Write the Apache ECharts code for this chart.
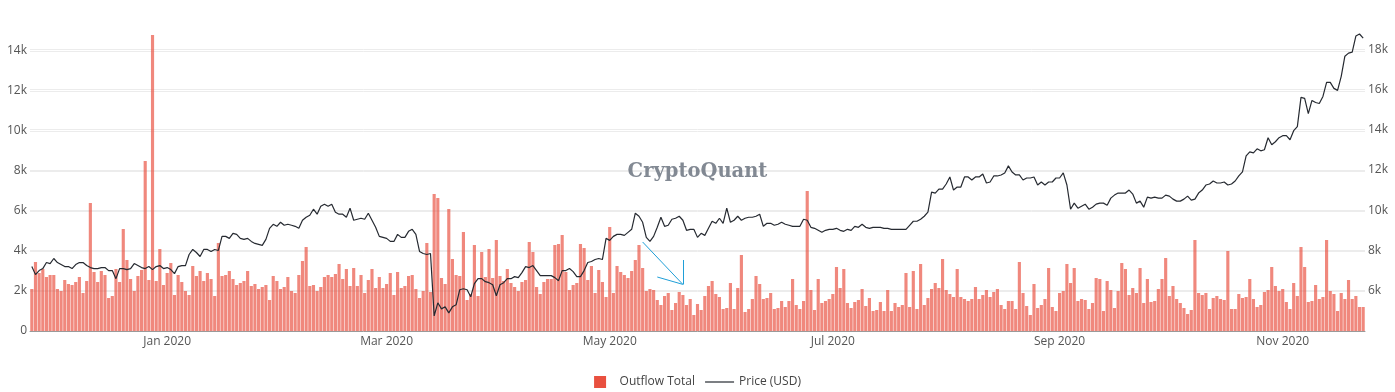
<!DOCTYPE html>
<html>
<head>
<meta charset="utf-8">
<script src="https://cdn.jsdelivr.net/npm/echarts@6/dist/echarts.min.js"></script>
<style>
html,body{margin:0;padding:0;background:#fff;}
#chart{width:1395px;height:392px;}
</style>
</head>
<body>
<div id="chart"></div>
<script>
// ---- data ----
const startDate = '2019-11-25';
const dayCount = 365;

const outflowTotal = [
2100,3450,2900,3100,2700,2800,2800,2100,2000,2550,
2350,2300,2450,2700,1900,2500,6400,2950,2450,3000,
2800,1650,1750,3100,2450,5100,3550,2600,2000,2750,
3050,8500,2550,14800,2500,4100,2300,2900,3400,1800,
2800,2450,2000,1800,3250,2750,3000,2500,2900,2600,
1750,4400,2750,2800,3000,2600,2300,2400,2500,3000,
2250,2350,2100,2200,2300,1550,2750,2500,2100,2200,
2700,2000,1900,2800,3500,4200,2250,2300,2000,2200,
2700,2800,2700,2850,3350,2600,3100,2250,3150,2250,
2800,1900,2550,3100,2150,2700,2150,2350,2900,1800,
2950,2150,2250,2750,2800,2100,1650,2000,4400,1950,
6850,6650,2650,2350,6100,3600,2800,2750,4950,1550,
1850,4300,1750,3950,2700,4100,2650,4550,2750,2500,
3100,2400,2200,2000,2450,2550,4450,3950,2200,1850,
2450,2600,2600,4300,4350,4800,2950,2050,2300,2400,
4350,4150,2550,3250,1900,3050,2450,1700,5200,1900,
3250,2950,2800,2650,3000,3550,4300,3150,2000,2100,
2050,1550,1300,1750,1900,1050,1400,1950,1800,1300,
1600,800,1350,1050,1750,2250,2500,1850,1700,1100,
1150,2400,1100,2150,3800,950,1100,1600,2750,2350,
1600,1650,1900,1100,1150,1500,1200,1500,2600,1300,
1100,1500,7000,2050,1050,2600,1400,1500,1600,1850,
3200,2150,3100,1400,1150,1450,1550,2100,1250,1650,
1000,1050,1450,1000,2050,1000,1400,1200,1300,2900,
1200,3000,1100,3350,1300,1650,2100,2400,2150,3600,
2050,1850,1700,3100,1700,1600,1500,1600,2200,1600,
1800,2050,1700,1950,2100,1300,1100,1500,1500,1100,
3450,1900,1250,800,2350,1150,1300,1600,3150,1200,
1000,1900,2000,3350,2400,3150,1500,1600,1550,1100,
1400,2650,2600,1000,2500,2050,1150,2000,3400,3100,
1800,2150,1900,3150,1400,2600,1450,1500,2100,2600,
3650,1750,2250,1600,1400,1150,850,1050,4550,1900,
1800,1900,1100,1650,1750,1600,1550,4000,1100,1100,
1850,1650,1700,2600,1600,1200,1300,1950,2050,3200,
2250,2000,2100,1450,1100,2400,1750,4200,3200,1450,
1500,2300,1600,1700,4550,2000,1850,1000,1900,1600,
2550,1600,1750,1200,1200
];

const priceUsd = [
7200,6800,7000,7100,7400,7350,7600,7400,7300,7200,
7200,7100,7300,7400,7400,7250,7150,7100,7100,7150,
7150,7000,7000,6600,7100,7100,7050,7100,7350,7250,
7150,7100,7200,7050,7200,7250,7100,7150,7050,6850,
7200,7250,7250,7800,8050,7900,7700,8050,8050,7950,
8050,8000,8700,8700,8600,8850,8800,8600,8550,8600,
8450,8350,8300,8250,8550,9100,9300,9200,9400,9250,
9300,9250,9200,9100,9500,9650,9750,10050,9800,10200,
10300,10200,10300,9900,9800,9800,9650,10100,9500,9550,
9600,9550,9850,9500,9150,8700,8650,8600,8450,8450,
8800,8650,8650,8950,9050,8800,7950,7850,7800,7850,
4750,5400,5100,5200,4900,5200,5300,6050,6100,6050,
5700,6350,6600,6600,6450,6400,6300,5750,6300,6400,
6600,6600,6700,6650,6900,7200,7150,7250,7000,6750,
6750,6750,6750,6650,6500,7000,7000,7100,6950,6700,
6700,7000,7400,7450,7550,7600,7550,8600,8500,8700,
8800,8800,8750,8900,9050,9850,9700,9400,8650,8450,
8700,9150,9650,9200,9250,9550,9600,9700,9500,9000,
9050,9050,8650,8850,8750,9100,9450,9350,9600,9350,
10100,9400,9500,9700,9500,9600,9650,9650,9700,9800,
9200,9350,9350,9250,9300,9400,9300,9250,9200,9200,
9200,9550,9500,9150,9100,9000,8900,9000,9050,9050,
9100,9000,8950,9050,9000,9200,9150,9300,9150,9100,
9150,9150,9150,9100,9100,9050,9050,9050,9050,9050,
9250,9450,9450,9550,9700,9900,10900,10850,11050,11050,
11300,11650,11000,11150,11150,11650,11650,11500,11650,11650,
11800,11350,11400,11700,11700,11750,11850,12200,11900,11750,
11750,11500,11600,11600,11650,11250,11400,11250,11400,11400,
11600,11600,11850,11250,10050,10350,10100,10200,10300,10050,
10150,10300,10350,10350,10250,10600,10750,10850,10850,10850,
11000,10800,10350,10450,10150,10650,10600,10650,10600,10600,
10750,10700,10550,10450,10450,10550,10700,10500,10550,10850,
11000,11250,11300,11450,11350,11350,11400,11250,11300,11450,
11700,11900,12700,12900,12850,13050,12950,13000,13600,13250,
13400,13600,13700,13700,13500,13950,14150,15600,15550,14800,
15450,15350,15300,15650,16350,16350,16050,15950,16650,17650,
17800,17850,18650,18750,18550
];

const seriesNames = ['Outflow Total', 'Price (USD)'];
const monthNames = ['Jan','Feb','Mar','Apr','May','Jun','Jul','Aug','Sep','Oct','Nov','Dec'];
const labelMonths = [0, 2, 4, 6, 8, 10];
// annotation arrow (day index, outflow value)
const arrowSegments = [
  [[167, 4450], [178, 2330]],
  [[171, 2700], [178, 2330]],
  [[178, 3550], [178, 2330]]
];

// ---- categories ----
const categories = [];
(function(){
  const d0 = new Date(startDate + 'T00:00:00Z');
  for (let i = 0; i < dayCount; i++) {
    const d = new Date(d0.getTime() + i * 86400000);
    categories.push(d.toISOString().slice(0, 10));
  }
})();

function isLabelDay(v) {
  const m = parseInt(v.slice(5, 7), 10) - 1;
  return v.slice(8, 10) === '01' && labelMonths.indexOf(m) >= 0;
}
function kFmt(v) { return v === 0 ? '0' : (v / 1000) + 'k'; }

const chart = echarts.init(document.getElementById('chart'), null, {renderer: 'canvas'});
const FONT = '"Open Sans", "DejaVu Sans", sans-serif';

chart.setOption({
  animation: false,
  backgroundColor: '#ffffff',
  textStyle: {fontFamily: FONT},
  grid: {left: 30, right: 30, top: 31, height: 300, containLabel: false},
  legend: {
    left: 'center', top: 371,
    itemWidth: 29, itemHeight: 12, itemGap: 10,
    textStyle: {fontSize: 12, color: '#444', fontFamily: FONT},
    data: [
      {name: seriesNames[0], icon: 'path://M0,0L10,0L10,10L0,10Z', itemStyle: {color: '#E9503F', opacity: 1}},
      {name: seriesNames[1], icon: 'path://M0,0L29,0L29,1.2L0,1.2Z', itemStyle: {color: '#262a31', opacity: 1}}
    ]
  },
  xAxis: {
    type: 'category',
    data: categories,
    boundaryGap: true,
    axisLine: {show: true, lineStyle: {color: '#9a9a9a', width: 1}},
    axisTick: {show: false},
    splitLine: {show: false},
    axisLabel: {
      interval: function (idx, v) { return isLabelDay(v); },
      formatter: function (v) {
        return monthNames[parseInt(v.slice(5, 7), 10) - 1] + ' ' + v.slice(0, 4);
      },
      color: '#555', fontSize: 12, margin: 5, fontFamily: FONT
    }
  },
  yAxis: [
    {
      type: 'value', min: 0, max: 15000, interval: 2000, position: 'left',
      axisLine: {show: false}, axisTick: {show: false},
      axisLabel: {
        color: '#555', fontSize: 12, margin: 3, fontFamily: FONT,
        formatter: function (v) { return (v % 2000 === 0 && v <= 14000) ? kFmt(v) : ''; }
      },
      splitLine: {show: true, showMaxLine: false, lineStyle: {color: '#ececec', width: 1}}
    },
    {
      type: 'value', min: 4000, max: 18900, interval: 2000, position: 'right',
      axisLine: {show: false}, axisTick: {show: false},
      axisLabel: {
        color: '#555', fontSize: 12, margin: 3, fontFamily: FONT,
        formatter: function (v) { return (v % 2000 === 0 && v >= 6000 && v <= 18000) ? kFmt(v) : ''; }
      },
      splitLine: {show: true, showMinLine: false, showMaxLine: false, lineStyle: {color: '#ececec', width: 1}}
    }
  ],
  graphic: [{
    type: 'text', left: 'center', top: 162, z: 1, silent: true,
    style: {
      text: 'CryptoQuant',
      font: 'bold 19.5px "DejaVu Serif", "Liberation Serif", serif',
      fill: '#7b838d', opacity: 0.95
    }
  }],
  series: [
    {
      name: seriesNames[0],
      type: 'bar',
      yAxisIndex: 0,
      data: outflowTotal,
      barCategoryGap: '14%',
      itemStyle: {color: 'rgba(233,80,63,0.68)'},
      z: 2,
      markLine: {
        silent: true,
        symbol: ['none', 'none'],
        label: {show: false},
        lineStyle: {color: '#1f9fd8', width: 1, type: 'solid'},
        data: arrowSegments.map(function (seg) {
          return [
            {coord: [categories[seg[0][0]], seg[0][1]]},
            {coord: [categories[seg[1][0]], seg[1][1]]}
          ];
        })
      }
    },
    {
      name: seriesNames[1],
      type: 'line',
      yAxisIndex: 1,
      data: priceUsd,
      symbol: 'none',
      showSymbol: false,
      lineStyle: {color: '#262a31', width: 1.2},
      itemStyle: {color: '#262a31'},
      z: 3
    }
  ]
});
</script>
</body>
</html>
